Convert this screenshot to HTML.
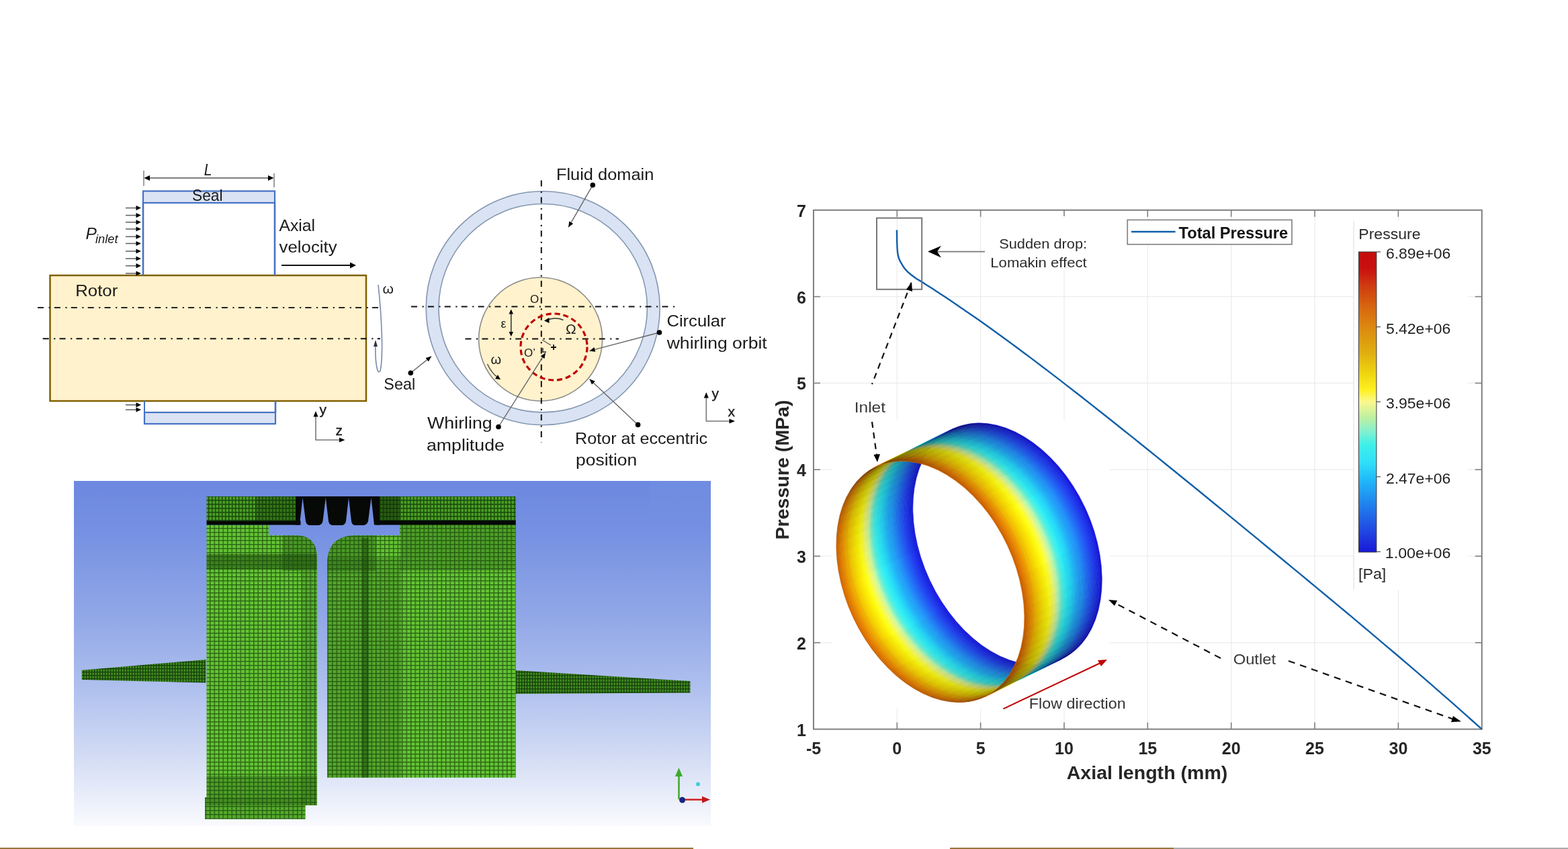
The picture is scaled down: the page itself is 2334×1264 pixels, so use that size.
<!DOCTYPE html>
<html><head><meta charset="utf-8"><title>Seal figure</title>
<style>html,body{margin:0;padding:0;background:#fff;overflow:hidden;} svg{display:block;}</style></head>
<body>
<svg width="2334" height="1264" viewBox="0 0 2334 1264">
<rect width="2334" height="1264" fill="#fff"/>
<rect x="74.5" y="410" width="470.5" height="187" fill="#FFF2CC" stroke="#7F6000" stroke-width="2.5"/>
<rect x="213" y="284.5" width="196" height="17.5" fill="#DAE3F3" stroke="#4472C4" stroke-width="2.2"/>
<line x1="213" y1="302" x2="213" y2="410" stroke="#4472C4" stroke-width="2.6"/>
<line x1="409" y1="302" x2="409" y2="410" stroke="#4472C4" stroke-width="2.6"/>
<rect x="215" y="614" width="195" height="17" fill="#DAE3F3" stroke="#4472C4" stroke-width="2.2"/>
<line x1="215" y1="597" x2="215" y2="614" stroke="#4472C4" stroke-width="2"/>
<line x1="410" y1="597" x2="410" y2="614" stroke="#4472C4" stroke-width="2.6"/>
<line x1="214" y1="254" x2="214" y2="277" stroke="#808080" stroke-width="1.5"/>
<line x1="408" y1="258" x2="408" y2="279" stroke="#808080" stroke-width="1.5"/>
<line x1="220" y1="265" x2="402" y2="265" stroke="#555" stroke-width="1.5"/>
<path d="M214.5 265 L223 261 L223 269 Z" fill="#000"/>
<path d="M407.5 265 L399 261 L399 269 Z" fill="#000"/>
<line x1="187" y1="309.6" x2="203" y2="309.6" stroke="#666" stroke-width="1.6"/>
<path d="M210 309.6 L202.5 306.0 L202.5 313.20000000000005 Z" fill="#000"/>
<line x1="187" y1="320.6" x2="203" y2="320.6" stroke="#666" stroke-width="1.6"/>
<path d="M210 320.6 L202.5 317.0 L202.5 324.20000000000005 Z" fill="#000"/>
<line x1="187" y1="330.8" x2="203" y2="330.8" stroke="#666" stroke-width="1.6"/>
<path d="M210 330.8 L202.5 327.2 L202.5 334.40000000000003 Z" fill="#000"/>
<line x1="187" y1="341" x2="203" y2="341" stroke="#666" stroke-width="1.6"/>
<path d="M210 341 L202.5 337.4 L202.5 344.6 Z" fill="#000"/>
<line x1="187" y1="352.3" x2="203" y2="352.3" stroke="#666" stroke-width="1.6"/>
<path d="M210 352.3 L202.5 348.7 L202.5 355.90000000000003 Z" fill="#000"/>
<line x1="187" y1="362.5" x2="203" y2="362.5" stroke="#666" stroke-width="1.6"/>
<path d="M210 362.5 L202.5 358.9 L202.5 366.1 Z" fill="#000"/>
<line x1="187" y1="374" x2="203" y2="374" stroke="#666" stroke-width="1.6"/>
<path d="M210 374 L202.5 370.4 L202.5 377.6 Z" fill="#000"/>
<line x1="187" y1="385" x2="203" y2="385" stroke="#666" stroke-width="1.6"/>
<path d="M210 385 L202.5 381.4 L202.5 388.6 Z" fill="#000"/>
<line x1="187" y1="395.7" x2="203" y2="395.7" stroke="#666" stroke-width="1.6"/>
<path d="M210 395.7 L202.5 392.09999999999997 L202.5 399.3 Z" fill="#000"/>
<line x1="187" y1="407" x2="203" y2="407" stroke="#666" stroke-width="1.6"/>
<path d="M210 407 L202.5 403.4 L202.5 410.6 Z" fill="#000"/>
<line x1="187" y1="602.8" x2="203" y2="602.8" stroke="#666" stroke-width="1.6"/>
<path d="M210 602.8 L202.5 599.1999999999999 L202.5 606.4 Z" fill="#000"/>
<line x1="187" y1="610" x2="203" y2="610" stroke="#666" stroke-width="1.6"/>
<path d="M210 610 L202.5 606.4 L202.5 613.6 Z" fill="#000"/>
<line x1="419" y1="395" x2="522" y2="395" stroke="#111" stroke-width="2"/>
<path d="M530 395 L521 390.5 L521 399.5 Z" fill="#000"/>
<line x1="56" y1="458" x2="566" y2="458" stroke="#222" stroke-width="2" stroke-dasharray="9 7.5 2.2 6.2"/>
<line x1="63.7" y1="504.3" x2="566" y2="504.3" stroke="#111" stroke-width="2" stroke-dasharray="9 7.5 2.2 6.2"/>
<path d="M563 424 C 568 470, 571 530, 566 552 C 562 560, 558 540, 559 512" fill="none" stroke="#7a8aa8" stroke-width="1.6"/>
<path d="M559 506 L556 516 L562 516 Z" fill="#334"/>
<text x="569.5" y="436.5" font-family="'Liberation Sans', Arial, sans-serif" font-size="21" fill="#1a1a1a">ω</text>
<path d="M470 620 L470 655 L506 655" fill="none" stroke="#777" stroke-width="1.6"/>
<path d="M470 612 L466.5 620.5 L473.5 620.5 Z" fill="#000"/>
<path d="M513.5 655 L505 651.5 L505 658.5 Z" fill="#000"/>
<text x="475.5" y="617" font-family="'Liberation Sans', Arial, sans-serif" font-size="21" fill="#1a1a1a" stroke="#1a1a1a" stroke-width="0.4">y</text>
<text x="499.5" y="647.8" font-family="'Liberation Sans', Arial, sans-serif" font-size="21" fill="#1a1a1a" stroke="#1a1a1a" stroke-width="0.4">z</text>
<circle cx="808.2" cy="458.7" r="164.6" fill="none" stroke="#DAE3F3" stroke-width="19"/>
<circle cx="808.2" cy="458.7" r="174" fill="none" stroke="#8497B0" stroke-width="1.6"/>
<circle cx="808.2" cy="458.7" r="155.2" fill="none" stroke="#8497B0" stroke-width="1.6"/>
<circle cx="804.6" cy="505" r="92" fill="#FFF2CC" stroke="#8C8C8C" stroke-width="1.6"/>
<line x1="612" y1="456.6" x2="1006" y2="456.6" stroke="#111" stroke-width="2" stroke-dasharray="9 7.5 2.2 6.2"/>
<line x1="692.5" y1="504.5" x2="921" y2="504.5" stroke="#111" stroke-width="2" stroke-dasharray="9 7.5 2.2 6.2"/>
<line x1="805.8" y1="268.5" x2="805.8" y2="659" stroke="#111" stroke-width="2" stroke-dasharray="9 7.5 2.2 6.2"/>
<circle cx="824.5" cy="516.5" r="49.5" fill="none" stroke="#C00000" stroke-width="3.2" stroke-dasharray="8 5"/>
<text x="789" y="451" font-family="'Liberation Sans', Arial, sans-serif" font-size="17" fill="#1a1a1a">O</text>
<text x="745.5" y="488" font-family="'Liberation Sans', Arial, sans-serif" font-size="18" fill="#1a1a1a">ε</text>
<text x="842" y="497" font-family="'Liberation Sans', Arial, sans-serif" font-size="21" fill="#1a1a1a">Ω</text>
<text x="780" y="531" font-family="'Liberation Sans', Arial, sans-serif" font-size="17" fill="#1a1a1a">O’</text>
<text x="730.5" y="541.5" font-family="'Liberation Sans', Arial, sans-serif" font-size="20" fill="#1a1a1a">ω</text>
<line x1="760.8" y1="466" x2="760.8" y2="496" stroke="#222" stroke-width="1.4"/>
<path d="M760.8 460.5 L757.5 467.5 L764 467.5 Z" fill="#000"/>
<path d="M760.8 501 L757.5 494 L764 494 Z" fill="#000"/>
<path d="M838.5 476.5 Q 828 472 815 476" fill="none" stroke="#333" stroke-width="1.5"/>
<path d="M810 477.5 L817.5 473 L817.5 481 Z" fill="#000"/>
<line x1="807" y1="506" x2="820" y2="514" stroke="#555" stroke-width="1.2"/>
<path d="M820 517 h8 M824 513 v8" stroke="#111" stroke-width="1.8"/>
<path d="M808 518 L808 524 L813 524" fill="none" stroke="#222" stroke-width="1.4"/>
<path d="M725.5 542 Q 732 556 741 562" fill="none" stroke="#444" stroke-width="1.4"/>
<path d="M745 565 L737 564 L741 558 Z" fill="#000"/>
<line x1="882.3" y1="275.6" x2="846.2" y2="338.2" stroke="#666" stroke-width="1.4"/>
<circle cx="882.3" cy="275.6" r="3.8" fill="#000"/>
<path d="M846.2 338.2 L847.2 329.5 L853.2 333.0 Z" fill="#000"/>
<line x1="611.3" y1="555.3" x2="642" y2="530.6" stroke="#666" stroke-width="1.4"/>
<circle cx="611.3" cy="555.3" r="3.8" fill="#000"/>
<path d="M642.0 530.6 L638.0 538.3 L633.6 532.9 Z" fill="#000"/>
<line x1="742" y1="635.5" x2="811.8" y2="525.4" stroke="#666" stroke-width="1.4"/>
<circle cx="742" cy="635.5" r="3.8" fill="#000"/>
<path d="M811.8 525.4 L810.5 534.0 L804.6 530.3 Z" fill="#000"/>
<line x1="949.6" y1="632.4" x2="877.6" y2="564.5" stroke="#666" stroke-width="1.4"/>
<circle cx="949.6" cy="632.4" r="3.8" fill="#000"/>
<path d="M877.6 564.5 L885.8 567.4 L881.0 572.5 Z" fill="#000"/>
<line x1="981.5" y1="495" x2="877.6" y2="522.4" stroke="#666" stroke-width="1.4"/>
<circle cx="981.5" cy="495" r="3.8" fill="#000"/>
<path d="M877.6 522.4 L884.4 517.0 L886.2 523.7 Z" fill="#000"/>
<path d="M1051.3 592 L1051.3 627 L1087 627" fill="none" stroke="#777" stroke-width="1.6"/>
<path d="M1051.3 584 L1047.8 592.5 L1054.8 592.5 Z" fill="#000"/>
<path d="M1094 627 L1085.5 623.5 L1085.5 630.5 Z" fill="#000"/>
<text x="1059.5" y="592.7" font-family="'Liberation Sans', Arial, sans-serif" font-size="21" fill="#1a1a1a" stroke="#1a1a1a" stroke-width="0.4">y</text>
<text x="1083.5" y="619.6" font-family="'Liberation Sans', Arial, sans-serif" font-size="21" fill="#1a1a1a" stroke="#1a1a1a" stroke-width="0.4">x</text>
<defs>
<linearGradient id="bgGrad" x1="0" y1="0" x2="0" y2="1">
 <stop offset="0" stop-color="#6C88E0"/>
 <stop offset="0.15" stop-color="#7691E2"/>
 <stop offset="0.4" stop-color="#92A8E7"/>
 <stop offset="0.6" stop-color="#AFC0EE"/>
 <stop offset="0.8" stop-color="#D3DCF4"/>
 <stop offset="1" stop-color="#F9FAFE"/>
</linearGradient>
<pattern id="meshA" width="6.5" height="6" patternUnits="userSpaceOnUse">
 <rect width="6.5" height="6" fill="#64C434"/>
 <rect x="0" y="0" width="6.5" height="1.4" fill="#2A6414"/>
 <rect x="0" y="0" width="1.4" height="6" fill="#2A6414"/>
</pattern>
<pattern id="meshB" width="6" height="6" patternUnits="userSpaceOnUse">
 <rect width="6" height="6" fill="#4EA826"/>
 <rect x="0" y="0" width="6" height="1.5" fill="#1C5510"/>
 <rect x="0" y="0" width="1.5" height="6" fill="#1C5510"/>
</pattern>
<pattern id="meshD" width="5" height="6" patternUnits="userSpaceOnUse">
 <rect width="5" height="6" fill="#4A9E24"/>
 <rect x="0" y="0" width="5" height="1.6" fill="#1A4A0C"/>
 <rect x="0" y="0" width="1.4" height="6" fill="#1A4A0C"/>
</pattern>
<pattern id="meshC" width="4" height="5" patternUnits="userSpaceOnUse">
 <rect width="4" height="5" fill="#3E8A1E"/>
 <rect x="0" y="0" width="4" height="1.3" fill="#173F0C"/>
 <rect x="0" y="0" width="1.3" height="5" fill="#173F0C"/>
</pattern>
</defs>
<rect x="110" y="716" width="948" height="513" fill="url(#bgGrad)"/>
<rect x="968" y="716" width="90" height="56" fill="#7190E1" opacity="0.6"/>
<path d="M121.8 997.7 L306.5 982 L306.5 1016.5 L121.8 1012 Z" fill="url(#meshC)"/>
<path d="M767.6 998 L1027.5 1014 L1027.5 1031.4 L767.6 1033 Z" fill="url(#meshC)"/>
<path d="M307.5 739 L307.5 1187 L305 1187 L305 1219.6 L454.6 1219.6 L454.6 1199 L471.8 1199 L471.8 830 Q471.8 797 440 797 L400 797 L400 781.5 L307.5 781.5 Z" fill="url(#meshA)"/>
<rect x="307.5" y="739" width="132.5" height="37" fill="url(#meshD)"/>
<rect x="380" y="739" width="60" height="37" fill="#0E2A06" opacity="0.35"/>
<rect x="307.5" y="825" width="164" height="23" fill="#1E4A0E" opacity="0.55"/>
<path d="M487 1157.7 L767.6 1157.7 L767.6 739 L565 739 L565 775 L595.4 775 L595.4 797 L530 797 Q487 797 487 840 Z" fill="url(#meshA)"/>
<rect x="565" y="739" width="202.6" height="37" fill="url(#meshD)"/>
<rect x="487" y="830" width="110" height="327.7" fill="#1E4A0E" opacity="0.25"/>
<rect x="538" y="801" width="11" height="356.7" fill="#123A08" opacity="0.45"/>
<rect x="595.4" y="781.5" width="172.2" height="68" fill="#1E4A0E" opacity="0.3"/>
<path d="M487 840 Q487 797 530 797 L560 797 L560 850 L487 850 Z" fill="#1E4A0E" opacity="0.35"/>
<rect x="559" y="739" width="36" height="36" fill="#0E2A06" opacity="0.55"/>
<path d="M440 797 Q471.8 797 471.8 830 L471.8 850 L420 850 L420 797 Z" fill="#1E4A0E" opacity="0.35"/>
<rect x="307.5" y="1155" width="164.3" height="44" fill="#1E4A0E" opacity="0.3"/>
<rect x="305" y="1187" width="149.6" height="32.6" fill="#1E4A0E" opacity="0.2"/>
<rect x="448" y="850" width="23.8" height="349" fill="#1E4A0E" opacity="0.2"/>
<rect x="307.5" y="775.5" width="140" height="6" fill="#050805"/>
<rect x="560" y="775" width="207.6" height="6.5" fill="#050805"/>
<path d="M440 739 L565 739 L565 781.5 L557 781.5 L552.5 741 L548 776 Q546 782 540 782 L529 782 Q524 782 523 776 L519 741 L515 776 Q513.5 782 508 782 L496 782 Q490 782 489 776 L484.8 741 L480.5 776 Q479 782 473 782 L462 782 Q456 782 455 776 L450.5 741 L446 781.5 L440 781.5 Z" fill="#060906"/>
<line x1="1010.5" y1="1190" x2="1010.5" y2="1152" stroke="#3DAA2A" stroke-width="2.5"/>
<path d="M1010.5 1143 L1005 1156 L1016 1156 Z" fill="#3DAA2A"/>
<line x1="1012" y1="1190.5" x2="1048" y2="1190.5" stroke="#D02020" stroke-width="2.5"/>
<path d="M1057 1190.5 L1045 1185.5 L1045 1195.5 Z" fill="#C01818"/>
<circle cx="1015.6" cy="1191" r="4.5" fill="#1A237E"/>
<circle cx="1039" cy="1167.4" r="3" fill="#3CCFD8"/>
<line x1="1335.3" y1="312.8" x2="1335.3" y2="1085.6000000000001" stroke="#EBEBEB" stroke-width="1.2"/>
<line x1="1459.6" y1="312.8" x2="1459.6" y2="1085.6000000000001" stroke="#EBEBEB" stroke-width="1.2"/>
<line x1="1584.0" y1="312.8" x2="1584.0" y2="1085.6000000000001" stroke="#EBEBEB" stroke-width="1.2"/>
<line x1="1708.3" y1="312.8" x2="1708.3" y2="1085.6000000000001" stroke="#EBEBEB" stroke-width="1.2"/>
<line x1="1832.7" y1="312.8" x2="1832.7" y2="1085.6000000000001" stroke="#EBEBEB" stroke-width="1.2"/>
<line x1="1957.0" y1="312.8" x2="1957.0" y2="1085.6000000000001" stroke="#EBEBEB" stroke-width="1.2"/>
<line x1="2081.4" y1="312.8" x2="2081.4" y2="1085.6000000000001" stroke="#EBEBEB" stroke-width="1.2"/>
<line x1="1210.95" y1="956.8" x2="2205.75" y2="956.8" stroke="#EBEBEB" stroke-width="1.2"/>
<line x1="1210.95" y1="828.0" x2="2205.75" y2="828.0" stroke="#EBEBEB" stroke-width="1.2"/>
<line x1="1210.95" y1="699.2" x2="2205.75" y2="699.2" stroke="#EBEBEB" stroke-width="1.2"/>
<line x1="1210.95" y1="570.4" x2="2205.75" y2="570.4" stroke="#EBEBEB" stroke-width="1.2"/>
<line x1="1210.95" y1="441.6" x2="2205.75" y2="441.6" stroke="#EBEBEB" stroke-width="1.2"/>
<line x1="1335.3" y1="1085.6000000000001" x2="1335.3" y2="1075.6000000000001" stroke="#808080" stroke-width="1.6"/>
<line x1="1335.3" y1="312.8" x2="1335.3" y2="322.8" stroke="#808080" stroke-width="1.6"/>
<line x1="1459.6" y1="1085.6000000000001" x2="1459.6" y2="1075.6000000000001" stroke="#808080" stroke-width="1.6"/>
<line x1="1459.6" y1="312.8" x2="1459.6" y2="322.8" stroke="#808080" stroke-width="1.6"/>
<line x1="1584.0" y1="1085.6000000000001" x2="1584.0" y2="1075.6000000000001" stroke="#808080" stroke-width="1.6"/>
<line x1="1584.0" y1="312.8" x2="1584.0" y2="322.8" stroke="#808080" stroke-width="1.6"/>
<line x1="1708.3" y1="1085.6000000000001" x2="1708.3" y2="1075.6000000000001" stroke="#808080" stroke-width="1.6"/>
<line x1="1708.3" y1="312.8" x2="1708.3" y2="322.8" stroke="#808080" stroke-width="1.6"/>
<line x1="1832.7" y1="1085.6000000000001" x2="1832.7" y2="1075.6000000000001" stroke="#808080" stroke-width="1.6"/>
<line x1="1832.7" y1="312.8" x2="1832.7" y2="322.8" stroke="#808080" stroke-width="1.6"/>
<line x1="1957.0" y1="1085.6000000000001" x2="1957.0" y2="1075.6000000000001" stroke="#808080" stroke-width="1.6"/>
<line x1="1957.0" y1="312.8" x2="1957.0" y2="322.8" stroke="#808080" stroke-width="1.6"/>
<line x1="2081.4" y1="1085.6000000000001" x2="2081.4" y2="1075.6000000000001" stroke="#808080" stroke-width="1.6"/>
<line x1="2081.4" y1="312.8" x2="2081.4" y2="322.8" stroke="#808080" stroke-width="1.6"/>
<line x1="1210.95" y1="956.8" x2="1220.95" y2="956.8" stroke="#808080" stroke-width="1.6"/>
<line x1="2205.75" y1="956.8" x2="2195.75" y2="956.8" stroke="#808080" stroke-width="1.6"/>
<line x1="1210.95" y1="828.0" x2="1220.95" y2="828.0" stroke="#808080" stroke-width="1.6"/>
<line x1="2205.75" y1="828.0" x2="2195.75" y2="828.0" stroke="#808080" stroke-width="1.6"/>
<line x1="1210.95" y1="699.2" x2="1220.95" y2="699.2" stroke="#808080" stroke-width="1.6"/>
<line x1="2205.75" y1="699.2" x2="2195.75" y2="699.2" stroke="#808080" stroke-width="1.6"/>
<line x1="1210.95" y1="570.4" x2="1220.95" y2="570.4" stroke="#808080" stroke-width="1.6"/>
<line x1="2205.75" y1="570.4" x2="2195.75" y2="570.4" stroke="#808080" stroke-width="1.6"/>
<line x1="1210.95" y1="441.6" x2="1220.95" y2="441.6" stroke="#808080" stroke-width="1.6"/>
<line x1="2205.75" y1="441.6" x2="2195.75" y2="441.6" stroke="#808080" stroke-width="1.6"/>
<rect x="1210.95" y="312.8" width="994.8" height="772.8000000000002" fill="none" stroke="#7F7F7F" stroke-width="2"/>
<text x="1211.0" y="1122.5" text-anchor="middle" font-family="'Liberation Sans', Arial, sans-serif" font-weight="bold" font-size="25" fill="#262626">-5</text>
<text x="1335.3" y="1122.5" text-anchor="middle" font-family="'Liberation Sans', Arial, sans-serif" font-weight="bold" font-size="25" fill="#262626">0</text>
<text x="1459.6" y="1122.5" text-anchor="middle" font-family="'Liberation Sans', Arial, sans-serif" font-weight="bold" font-size="25" fill="#262626">5</text>
<text x="1584.0" y="1122.5" text-anchor="middle" font-family="'Liberation Sans', Arial, sans-serif" font-weight="bold" font-size="25" fill="#262626">10</text>
<text x="1708.3" y="1122.5" text-anchor="middle" font-family="'Liberation Sans', Arial, sans-serif" font-weight="bold" font-size="25" fill="#262626">15</text>
<text x="1832.7" y="1122.5" text-anchor="middle" font-family="'Liberation Sans', Arial, sans-serif" font-weight="bold" font-size="25" fill="#262626">20</text>
<text x="1957.0" y="1122.5" text-anchor="middle" font-family="'Liberation Sans', Arial, sans-serif" font-weight="bold" font-size="25" fill="#262626">25</text>
<text x="2081.4" y="1122.5" text-anchor="middle" font-family="'Liberation Sans', Arial, sans-serif" font-weight="bold" font-size="25" fill="#262626">30</text>
<text x="2205.8" y="1122.5" text-anchor="middle" font-family="'Liberation Sans', Arial, sans-serif" font-weight="bold" font-size="25" fill="#262626">35</text>
<text x="1200" y="1095.6" text-anchor="end" font-family="'Liberation Sans', Arial, sans-serif" font-weight="bold" font-size="25" fill="#262626">1</text>
<text x="1200" y="966.8" text-anchor="end" font-family="'Liberation Sans', Arial, sans-serif" font-weight="bold" font-size="25" fill="#262626">2</text>
<text x="1200" y="838.0" text-anchor="end" font-family="'Liberation Sans', Arial, sans-serif" font-weight="bold" font-size="25" fill="#262626">3</text>
<text x="1200" y="709.2" text-anchor="end" font-family="'Liberation Sans', Arial, sans-serif" font-weight="bold" font-size="25" fill="#262626">4</text>
<text x="1200" y="580.4" text-anchor="end" font-family="'Liberation Sans', Arial, sans-serif" font-weight="bold" font-size="25" fill="#262626">5</text>
<text x="1200" y="451.6" text-anchor="end" font-family="'Liberation Sans', Arial, sans-serif" font-weight="bold" font-size="25" fill="#262626">6</text>
<text x="1200" y="322.8" text-anchor="end" font-family="'Liberation Sans', Arial, sans-serif" font-weight="bold" font-size="25" fill="#262626">7</text>
<text transform="translate(1174.3 699.5) rotate(-90)" text-anchor="middle" textLength="208" lengthAdjust="spacingAndGlyphs" font-family="'Liberation Sans', Arial, sans-serif" font-weight="bold" font-size="28" fill="#262626">Pressure (MPa)</text>
<rect x="1239" y="625" width="413" height="430" fill="#fff"/>
<rect x="1470" y="322" width="155" height="80" fill="#fff"/>
<path d="M1465.29 1037.64A189.51 127.58 64.89 0 1 1304.47 694.44L1306.86 693.26A189.51 127.58 64.89 0 0 1467.68 1036.47Z" fill="#ce6500" stroke="#ce6500" stroke-width="0.6"/>
<path d="M1467.68 1036.47A189.51 127.58 64.89 0 1 1306.86 693.26L1309.25 692.09A189.51 127.58 64.89 0 0 1470.07 1035.30Z" fill="#db7000" stroke="#db7000" stroke-width="0.6"/>
<path d="M1470.07 1035.30A189.51 127.58 64.89 0 1 1309.25 692.09L1311.63 690.92A189.51 127.58 64.89 0 0 1472.46 1034.13Z" fill="#e27b00" stroke="#e27b00" stroke-width="0.6"/>
<path d="M1472.46 1034.13A189.51 127.58 64.89 0 1 1311.63 690.92L1314.02 689.75A189.51 127.58 64.89 0 0 1474.85 1032.96Z" fill="#e78800" stroke="#e78800" stroke-width="0.6"/>
<path d="M1474.85 1032.96A189.51 127.58 64.89 0 1 1314.02 689.75L1316.41 688.58A189.51 127.58 64.89 0 0 1477.23 1031.79Z" fill="#eb9400" stroke="#eb9400" stroke-width="0.6"/>
<path d="M1477.23 1031.79A189.51 127.58 64.89 0 1 1316.41 688.58L1318.80 687.41A189.51 127.58 64.89 0 0 1479.62 1030.62Z" fill="#eda100" stroke="#eda100" stroke-width="0.6"/>
<path d="M1479.62 1030.62A189.51 127.58 64.89 0 1 1318.80 687.41L1321.19 686.24A189.51 127.58 64.89 0 0 1482.01 1029.44Z" fill="#efae00" stroke="#efae00" stroke-width="0.6"/>
<path d="M1482.01 1029.44A189.51 127.58 64.89 0 1 1321.19 686.24L1323.58 685.06A189.51 127.58 64.89 0 0 1484.40 1028.27Z" fill="#f1bb00" stroke="#f1bb00" stroke-width="0.6"/>
<path d="M1484.40 1028.27A189.51 127.58 64.89 0 1 1323.58 685.06L1325.96 683.89A189.51 127.58 64.89 0 0 1486.79 1027.10Z" fill="#f3c700" stroke="#f3c700" stroke-width="0.6"/>
<path d="M1486.79 1027.10A189.51 127.58 64.89 0 1 1325.96 683.89L1328.35 682.72A189.51 127.58 64.89 0 0 1489.18 1025.93Z" fill="#f5d100" stroke="#f5d100" stroke-width="0.6"/>
<path d="M1489.18 1025.93A189.51 127.58 64.89 0 1 1328.35 682.72L1330.74 681.55A189.51 127.58 64.89 0 0 1491.56 1024.76Z" fill="#f7da00" stroke="#f7da00" stroke-width="0.6"/>
<path d="M1491.56 1024.76A189.51 127.58 64.89 0 1 1330.74 681.55L1333.13 680.38A189.51 127.58 64.89 0 0 1493.95 1023.59Z" fill="#f9e300" stroke="#f9e300" stroke-width="0.6"/>
<path d="M1493.95 1023.59A189.51 127.58 64.89 0 1 1333.13 680.38L1335.52 679.21A189.51 127.58 64.89 0 0 1496.34 1022.42Z" fill="#fbeb03" stroke="#fbeb03" stroke-width="0.6"/>
<path d="M1496.34 1022.42A189.51 127.58 64.89 0 1 1335.52 679.21L1337.91 678.03A189.51 127.58 64.89 0 0 1498.73 1021.24Z" fill="#fcf209" stroke="#fcf209" stroke-width="0.6"/>
<path d="M1498.73 1021.24A189.51 127.58 64.89 0 1 1337.91 678.03L1340.30 676.86A189.51 127.58 64.89 0 0 1501.12 1020.07Z" fill="#fef90f" stroke="#fef90f" stroke-width="0.6"/>
<path d="M1501.12 1020.07A189.51 127.58 64.89 0 1 1340.30 676.86L1342.68 675.69A189.51 127.58 64.89 0 0 1503.51 1018.90Z" fill="#feff19" stroke="#feff19" stroke-width="0.6"/>
<path d="M1503.51 1018.90A189.51 127.58 64.89 0 1 1342.68 675.69L1345.07 674.52A189.51 127.58 64.89 0 0 1505.90 1017.73Z" fill="#fafc3a" stroke="#fafc3a" stroke-width="0.6"/>
<path d="M1505.90 1017.73A189.51 127.58 64.89 0 1 1345.07 674.52L1347.46 673.35A189.51 127.58 64.89 0 0 1508.28 1016.56Z" fill="#f5fa5b" stroke="#f5fa5b" stroke-width="0.6"/>
<path d="M1508.28 1016.56A189.51 127.58 64.89 0 1 1347.46 673.35L1349.85 672.18A189.51 127.58 64.89 0 0 1510.67 1015.39Z" fill="#ecf87a" stroke="#ecf87a" stroke-width="0.6"/>
<path d="M1510.67 1015.39A189.51 127.58 64.89 0 1 1349.85 672.18L1352.24 671.01A189.51 127.58 64.89 0 0 1513.06 1014.21Z" fill="#d7f890" stroke="#d7f890" stroke-width="0.6"/>
<path d="M1513.06 1014.21A189.51 127.58 64.89 0 1 1352.24 671.01L1354.63 669.83A189.51 127.58 64.89 0 0 1515.45 1013.04Z" fill="#c1f8a7" stroke="#c1f8a7" stroke-width="0.6"/>
<path d="M1515.45 1013.04A189.51 127.58 64.89 0 1 1354.63 669.83L1357.01 668.66A189.51 127.58 64.89 0 0 1517.84 1011.87Z" fill="#9cf5ba" stroke="#9cf5ba" stroke-width="0.6"/>
<path d="M1517.84 1011.87A189.51 127.58 64.89 0 1 1357.01 668.66L1359.40 667.49A189.51 127.58 64.89 0 0 1520.23 1010.70Z" fill="#75f2ce" stroke="#75f2ce" stroke-width="0.6"/>
<path d="M1520.23 1010.70A189.51 127.58 64.89 0 1 1359.40 667.49L1361.79 666.32A189.51 127.58 64.89 0 0 1522.61 1009.53Z" fill="#57f0dd" stroke="#57f0dd" stroke-width="0.6"/>
<path d="M1522.61 1009.53A189.51 127.58 64.89 0 1 1361.79 666.32L1364.18 665.15A189.51 127.58 64.89 0 0 1525.00 1008.36Z" fill="#43f0e8" stroke="#43f0e8" stroke-width="0.6"/>
<path d="M1525.00 1008.36A189.51 127.58 64.89 0 1 1364.18 665.15L1366.57 663.98A189.51 127.58 64.89 0 0 1527.39 1007.19Z" fill="#30f0f2" stroke="#30f0f2" stroke-width="0.6"/>
<path d="M1527.39 1007.19A189.51 127.58 64.89 0 1 1366.57 663.98L1368.96 662.81A189.51 127.58 64.89 0 0 1529.78 1006.01Z" fill="#2ce8f4" stroke="#2ce8f4" stroke-width="0.6"/>
<path d="M1529.78 1006.01A189.51 127.58 64.89 0 1 1368.96 662.81L1371.35 661.63A189.51 127.58 64.89 0 0 1532.17 1004.84Z" fill="#27e1f6" stroke="#27e1f6" stroke-width="0.6"/>
<path d="M1532.17 1004.84A189.51 127.58 64.89 0 1 1371.35 661.63L1373.73 660.46A189.51 127.58 64.89 0 0 1534.56 1003.67Z" fill="#23daf7" stroke="#23daf7" stroke-width="0.6"/>
<path d="M1534.56 1003.67A189.51 127.58 64.89 0 1 1373.73 660.46L1376.12 659.29A189.51 127.58 64.89 0 0 1536.94 1002.50Z" fill="#22d0f8" stroke="#22d0f8" stroke-width="0.6"/>
<path d="M1536.94 1002.50A189.51 127.58 64.89 0 1 1376.12 659.29L1378.51 658.12A189.51 127.58 64.89 0 0 1539.33 1001.33Z" fill="#21c4f8" stroke="#21c4f8" stroke-width="0.6"/>
<path d="M1539.33 1001.33A189.51 127.58 64.89 0 1 1378.51 658.12L1380.90 656.95A189.51 127.58 64.89 0 0 1541.72 1000.16Z" fill="#20b8f8" stroke="#20b8f8" stroke-width="0.6"/>
<path d="M1541.72 1000.16A189.51 127.58 64.89 0 1 1380.90 656.95L1383.29 655.78A189.51 127.58 64.89 0 0 1544.11 998.99Z" fill="#20adf8" stroke="#20adf8" stroke-width="0.6"/>
<path d="M1544.11 998.99A189.51 127.58 64.89 0 1 1383.29 655.78L1385.68 654.61A189.51 127.58 64.89 0 0 1546.50 997.81Z" fill="#20a5f8" stroke="#20a5f8" stroke-width="0.6"/>
<path d="M1546.50 997.81A189.51 127.58 64.89 0 1 1385.68 654.61L1388.06 653.43A189.51 127.58 64.89 0 0 1548.89 996.64Z" fill="#209cf8" stroke="#209cf8" stroke-width="0.6"/>
<path d="M1548.89 996.64A189.51 127.58 64.89 0 1 1388.06 653.43L1390.45 652.26A189.51 127.58 64.89 0 0 1551.28 995.47Z" fill="#2094f8" stroke="#2094f8" stroke-width="0.6"/>
<path d="M1551.28 995.47A189.51 127.58 64.89 0 1 1390.45 652.26L1392.84 651.09A189.51 127.58 64.89 0 0 1553.66 994.30Z" fill="#208af8" stroke="#208af8" stroke-width="0.6"/>
<path d="M1553.66 994.30A189.51 127.58 64.89 0 1 1392.84 651.09L1395.23 649.92A189.51 127.58 64.89 0 0 1556.05 993.13Z" fill="#207ef7" stroke="#207ef7" stroke-width="0.6"/>
<path d="M1556.05 993.13A189.51 127.58 64.89 0 1 1395.23 649.92L1397.62 648.75A189.51 127.58 64.89 0 0 1558.44 991.96Z" fill="#2072f7" stroke="#2072f7" stroke-width="0.6"/>
<path d="M1558.44 991.96A189.51 127.58 64.89 0 1 1397.62 648.75L1400.01 647.58A189.51 127.58 64.89 0 0 1560.83 990.79Z" fill="#2067f6" stroke="#2067f6" stroke-width="0.6"/>
<path d="M1560.83 990.79A189.51 127.58 64.89 0 1 1400.01 647.58L1402.40 646.40A189.51 127.58 64.89 0 0 1563.22 989.61Z" fill="#205cf4" stroke="#205cf4" stroke-width="0.6"/>
<path d="M1563.22 989.61A189.51 127.58 64.89 0 1 1402.40 646.40L1404.78 645.23A189.51 127.58 64.89 0 0 1565.61 988.44Z" fill="#2052f3" stroke="#2052f3" stroke-width="0.6"/>
<path d="M1565.61 988.44A189.51 127.58 64.89 0 1 1404.78 645.23L1407.17 644.06A189.51 127.58 64.89 0 0 1567.99 987.27Z" fill="#2047f1" stroke="#2047f1" stroke-width="0.6"/>
<path d="M1567.99 987.27A189.51 127.58 64.89 0 1 1407.17 644.06L1409.56 642.89A189.51 127.58 64.89 0 0 1570.38 986.10Z" fill="#1f3def" stroke="#1f3def" stroke-width="0.6"/>
<path d="M1570.38 986.10A189.51 127.58 64.89 0 1 1409.56 642.89L1411.95 641.72A189.51 127.58 64.89 0 0 1572.77 984.93Z" fill="#1d35eb" stroke="#1d35eb" stroke-width="0.6"/>
<path d="M1572.77 984.93A189.51 127.58 64.89 0 1 1411.95 641.72L1414.34 640.55A189.51 127.58 64.89 0 0 1575.16 983.76Z" fill="#1b2ce7" stroke="#1b2ce7" stroke-width="0.6"/>
<path d="M1575.16 983.76A189.51 127.58 64.89 0 1 1414.34 640.55L1416.73 639.38A189.51 127.58 64.89 0 0 1577.55 982.58Z" fill="#1923e4" stroke="#1923e4" stroke-width="0.6"/>
<path d="M1577.55 982.58A189.51 127.58 64.89 0 1 1416.73 639.38L1419.11 638.20A189.51 127.58 64.89 0 0 1579.94 981.41Z" fill="#171ae0" stroke="#171ae0" stroke-width="0.6"/>
<path d="M1465.29 1037.64A189.51 127.58 64.89 0 1 1454.92 1041.71L1569.56 985.48A189.51 127.58 64.89 0 0 1579.94 981.41Z" fill="#000" fill-opacity="0.413"/>
<path d="M1454.92 1041.71A189.51 127.58 64.89 0 1 1444.01 1044.44L1558.65 988.21A189.51 127.58 64.89 0 0 1569.56 985.48Z" fill="#000" fill-opacity="0.343"/>
<path d="M1444.01 1044.44A189.51 127.58 64.89 0 1 1432.65 1045.81L1547.30 989.58A189.51 127.58 64.89 0 0 1558.65 988.21Z" fill="#000" fill-opacity="0.293"/>
<path d="M1432.65 1045.81A189.51 127.58 64.89 0 1 1420.93 1045.81L1535.58 989.58A189.51 127.58 64.89 0 0 1547.30 989.58Z" fill="#000" fill-opacity="0.252"/>
<path d="M1420.93 1045.81A189.51 127.58 64.89 0 1 1408.93 1044.44L1523.58 988.21A189.51 127.58 64.89 0 0 1535.58 989.58Z" fill="#000" fill-opacity="0.216"/>
<path d="M1408.93 1044.44A189.51 127.58 64.89 0 1 1396.76 1041.72L1511.40 985.49A189.51 127.58 64.89 0 0 1523.58 988.21Z" fill="#000" fill-opacity="0.185"/>
<path d="M1396.76 1041.72A189.51 127.58 64.89 0 1 1384.49 1037.66L1499.13 981.43A189.51 127.58 64.89 0 0 1511.40 985.49Z" fill="#000" fill-opacity="0.156"/>
<path d="M1384.49 1037.66A189.51 127.58 64.89 0 1 1372.22 1032.29L1486.87 976.06A189.51 127.58 64.89 0 0 1499.13 981.43Z" fill="#000" fill-opacity="0.130"/>
<path d="M1372.22 1032.29A189.51 127.58 64.89 0 1 1360.05 1025.66L1474.70 969.43A189.51 127.58 64.89 0 0 1486.87 976.06Z" fill="#000" fill-opacity="0.107"/>
<path d="M1360.05 1025.66A189.51 127.58 64.89 0 1 1348.07 1017.81L1462.72 961.58A189.51 127.58 64.89 0 0 1474.70 969.43Z" fill="#000" fill-opacity="0.086"/>
<path d="M1348.07 1017.81A189.51 127.58 64.89 0 1 1336.37 1008.81L1451.01 952.58A189.51 127.58 64.89 0 0 1462.72 961.58Z" fill="#000" fill-opacity="0.067"/>
<path d="M1336.37 1008.81A189.51 127.58 64.89 0 1 1325.04 998.72L1439.68 942.49A189.51 127.58 64.89 0 0 1451.01 952.58Z" fill="#000" fill-opacity="0.051"/>
<path d="M1325.04 998.72A189.51 127.58 64.89 0 1 1314.16 987.62L1428.81 931.39A189.51 127.58 64.89 0 0 1439.68 942.49Z" fill="#000" fill-opacity="0.037"/>
<path d="M1314.16 987.62A189.51 127.58 64.89 0 1 1303.82 975.60L1418.47 919.37A189.51 127.58 64.89 0 0 1428.81 931.39Z" fill="#000" fill-opacity="0.025"/>
<path d="M1303.82 975.60A189.51 127.58 64.89 0 1 1294.10 962.74L1408.75 906.51A189.51 127.58 64.89 0 0 1418.47 919.37Z" fill="#000" fill-opacity="0.015"/>
<path d="M1252.48 873.91A189.51 127.58 64.89 0 1 1248.82 858.22L1363.47 801.99A189.51 127.58 64.89 0 0 1367.12 817.68Z" fill="#000" fill-opacity="0.016"/>
<path d="M1248.82 858.22A189.51 127.58 64.89 0 1 1246.19 842.58L1360.84 786.35A189.51 127.58 64.89 0 0 1363.47 801.99Z" fill="#000" fill-opacity="0.027"/>
<path d="M1246.19 842.58A189.51 127.58 64.89 0 1 1244.63 827.12L1359.27 770.89A189.51 127.58 64.89 0 0 1360.84 786.35Z" fill="#000" fill-opacity="0.041"/>
<path d="M1244.63 827.12A189.51 127.58 64.89 0 1 1244.12 811.96L1358.77 755.72A189.51 127.58 64.89 0 0 1359.27 770.89Z" fill="#000" fill-opacity="0.058"/>
<path d="M1244.12 811.96A189.51 127.58 64.89 0 1 1244.69 797.20L1359.34 740.97A189.51 127.58 64.89 0 0 1358.77 755.72Z" fill="#000" fill-opacity="0.078"/>
<path d="M1244.69 797.20A189.51 127.58 64.89 0 1 1246.33 782.98L1360.98 726.74A189.51 127.58 64.89 0 0 1359.34 740.97Z" fill="#000" fill-opacity="0.102"/>
<path d="M1246.33 782.98A189.51 127.58 64.89 0 1 1249.02 769.38L1363.67 713.15A189.51 127.58 64.89 0 0 1360.98 726.74Z" fill="#000" fill-opacity="0.130"/>
<path d="M1249.02 769.38A189.51 127.58 64.89 0 1 1252.75 756.52L1367.39 700.29A189.51 127.58 64.89 0 0 1363.67 713.15Z" fill="#000" fill-opacity="0.161"/>
<path d="M1252.75 756.52A189.51 127.58 64.89 0 1 1257.48 744.49L1372.12 688.26A189.51 127.58 64.89 0 0 1367.39 700.29Z" fill="#000" fill-opacity="0.197"/>
<path d="M1257.48 744.49A189.51 127.58 64.89 0 1 1263.18 733.39L1377.83 677.16A189.51 127.58 64.89 0 0 1372.12 688.26Z" fill="#000" fill-opacity="0.238"/>
<path d="M1263.18 733.39A189.51 127.58 64.89 0 1 1269.81 723.30L1384.45 667.07A189.51 127.58 64.89 0 0 1377.83 677.16Z" fill="#000" fill-opacity="0.284"/>
<path d="M1269.81 723.30A189.51 127.58 64.89 0 1 1277.31 714.29L1391.95 658.06A189.51 127.58 64.89 0 0 1384.45 667.07Z" fill="#000" fill-opacity="0.338"/>
<path d="M1277.31 714.29A189.51 127.58 64.89 0 1 1285.63 706.44L1400.28 650.21A189.51 127.58 64.89 0 0 1391.95 658.06Z" fill="#000" fill-opacity="0.401"/>
<path d="M1285.63 706.44A189.51 127.58 64.89 0 1 1294.71 699.81L1409.35 643.58A189.51 127.58 64.89 0 0 1400.28 650.21Z" fill="#000" fill-opacity="0.479"/>
<path d="M1294.71 699.81A189.51 127.58 64.89 0 1 1304.47 694.44L1419.11 638.20A189.51 127.58 64.89 0 0 1409.35 643.58Z" fill="#000" fill-opacity="0.589"/>
<path d="M1304.47 694.44A189.51 127.58 64.89 0 1 1465.29 1037.64L1467.68 1036.47A189.51 127.58 64.89 0 0 1306.86 693.26Z" fill="#ce6500" stroke="#ce6500" stroke-width="0.6"/>
<path d="M1306.86 693.26A189.51 127.58 64.89 0 1 1467.68 1036.47L1470.07 1035.30A189.51 127.58 64.89 0 0 1309.25 692.09Z" fill="#db7000" stroke="#db7000" stroke-width="0.6"/>
<path d="M1309.25 692.09A189.51 127.58 64.89 0 1 1470.07 1035.30L1472.46 1034.13A189.51 127.58 64.89 0 0 1311.63 690.92Z" fill="#e27b00" stroke="#e27b00" stroke-width="0.6"/>
<path d="M1311.63 690.92A189.51 127.58 64.89 0 1 1472.46 1034.13L1474.85 1032.96A189.51 127.58 64.89 0 0 1314.02 689.75Z" fill="#e78800" stroke="#e78800" stroke-width="0.6"/>
<path d="M1314.02 689.75A189.51 127.58 64.89 0 1 1474.85 1032.96L1477.23 1031.79A189.51 127.58 64.89 0 0 1316.41 688.58Z" fill="#eb9400" stroke="#eb9400" stroke-width="0.6"/>
<path d="M1316.41 688.58A189.51 127.58 64.89 0 1 1477.23 1031.79L1479.62 1030.62A189.51 127.58 64.89 0 0 1318.80 687.41Z" fill="#eda100" stroke="#eda100" stroke-width="0.6"/>
<path d="M1318.80 687.41A189.51 127.58 64.89 0 1 1479.62 1030.62L1482.01 1029.44A189.51 127.58 64.89 0 0 1321.19 686.24Z" fill="#efae00" stroke="#efae00" stroke-width="0.6"/>
<path d="M1321.19 686.24A189.51 127.58 64.89 0 1 1482.01 1029.44L1484.40 1028.27A189.51 127.58 64.89 0 0 1323.58 685.06Z" fill="#f1bb00" stroke="#f1bb00" stroke-width="0.6"/>
<path d="M1323.58 685.06A189.51 127.58 64.89 0 1 1484.40 1028.27L1486.79 1027.10A189.51 127.58 64.89 0 0 1325.96 683.89Z" fill="#f3c700" stroke="#f3c700" stroke-width="0.6"/>
<path d="M1325.96 683.89A189.51 127.58 64.89 0 1 1486.79 1027.10L1489.18 1025.93A189.51 127.58 64.89 0 0 1328.35 682.72Z" fill="#f5d100" stroke="#f5d100" stroke-width="0.6"/>
<path d="M1328.35 682.72A189.51 127.58 64.89 0 1 1489.18 1025.93L1491.56 1024.76A189.51 127.58 64.89 0 0 1330.74 681.55Z" fill="#f7da00" stroke="#f7da00" stroke-width="0.6"/>
<path d="M1330.74 681.55A189.51 127.58 64.89 0 1 1491.56 1024.76L1493.95 1023.59A189.51 127.58 64.89 0 0 1333.13 680.38Z" fill="#f9e300" stroke="#f9e300" stroke-width="0.6"/>
<path d="M1333.13 680.38A189.51 127.58 64.89 0 1 1493.95 1023.59L1496.34 1022.42A189.51 127.58 64.89 0 0 1335.52 679.21Z" fill="#fbeb03" stroke="#fbeb03" stroke-width="0.6"/>
<path d="M1335.52 679.21A189.51 127.58 64.89 0 1 1496.34 1022.42L1498.73 1021.24A189.51 127.58 64.89 0 0 1337.91 678.03Z" fill="#fcf209" stroke="#fcf209" stroke-width="0.6"/>
<path d="M1337.91 678.03A189.51 127.58 64.89 0 1 1498.73 1021.24L1501.12 1020.07A189.51 127.58 64.89 0 0 1340.30 676.86Z" fill="#fef90f" stroke="#fef90f" stroke-width="0.6"/>
<path d="M1340.30 676.86A189.51 127.58 64.89 0 1 1501.12 1020.07L1503.51 1018.90A189.51 127.58 64.89 0 0 1342.68 675.69Z" fill="#feff19" stroke="#feff19" stroke-width="0.6"/>
<path d="M1342.68 675.69A189.51 127.58 64.89 0 1 1503.51 1018.90L1505.90 1017.73A189.51 127.58 64.89 0 0 1345.07 674.52Z" fill="#fafc3a" stroke="#fafc3a" stroke-width="0.6"/>
<path d="M1345.07 674.52A189.51 127.58 64.89 0 1 1505.90 1017.73L1508.28 1016.56A189.51 127.58 64.89 0 0 1347.46 673.35Z" fill="#f5fa5b" stroke="#f5fa5b" stroke-width="0.6"/>
<path d="M1347.46 673.35A189.51 127.58 64.89 0 1 1508.28 1016.56L1510.67 1015.39A189.51 127.58 64.89 0 0 1349.85 672.18Z" fill="#ecf87a" stroke="#ecf87a" stroke-width="0.6"/>
<path d="M1349.85 672.18A189.51 127.58 64.89 0 1 1510.67 1015.39L1513.06 1014.21A189.51 127.58 64.89 0 0 1352.24 671.01Z" fill="#d7f890" stroke="#d7f890" stroke-width="0.6"/>
<path d="M1352.24 671.01A189.51 127.58 64.89 0 1 1513.06 1014.21L1515.45 1013.04A189.51 127.58 64.89 0 0 1354.63 669.83Z" fill="#c1f8a7" stroke="#c1f8a7" stroke-width="0.6"/>
<path d="M1354.63 669.83A189.51 127.58 64.89 0 1 1515.45 1013.04L1517.84 1011.87A189.51 127.58 64.89 0 0 1357.01 668.66Z" fill="#9cf5ba" stroke="#9cf5ba" stroke-width="0.6"/>
<path d="M1357.01 668.66A189.51 127.58 64.89 0 1 1517.84 1011.87L1520.23 1010.70A189.51 127.58 64.89 0 0 1359.40 667.49Z" fill="#75f2ce" stroke="#75f2ce" stroke-width="0.6"/>
<path d="M1359.40 667.49A189.51 127.58 64.89 0 1 1520.23 1010.70L1522.61 1009.53A189.51 127.58 64.89 0 0 1361.79 666.32Z" fill="#57f0dd" stroke="#57f0dd" stroke-width="0.6"/>
<path d="M1361.79 666.32A189.51 127.58 64.89 0 1 1522.61 1009.53L1525.00 1008.36A189.51 127.58 64.89 0 0 1364.18 665.15Z" fill="#43f0e8" stroke="#43f0e8" stroke-width="0.6"/>
<path d="M1364.18 665.15A189.51 127.58 64.89 0 1 1525.00 1008.36L1527.39 1007.19A189.51 127.58 64.89 0 0 1366.57 663.98Z" fill="#30f0f2" stroke="#30f0f2" stroke-width="0.6"/>
<path d="M1366.57 663.98A189.51 127.58 64.89 0 1 1527.39 1007.19L1529.78 1006.01A189.51 127.58 64.89 0 0 1368.96 662.81Z" fill="#2ce8f4" stroke="#2ce8f4" stroke-width="0.6"/>
<path d="M1368.96 662.81A189.51 127.58 64.89 0 1 1529.78 1006.01L1532.17 1004.84A189.51 127.58 64.89 0 0 1371.35 661.63Z" fill="#27e1f6" stroke="#27e1f6" stroke-width="0.6"/>
<path d="M1371.35 661.63A189.51 127.58 64.89 0 1 1532.17 1004.84L1534.56 1003.67A189.51 127.58 64.89 0 0 1373.73 660.46Z" fill="#23daf7" stroke="#23daf7" stroke-width="0.6"/>
<path d="M1373.73 660.46A189.51 127.58 64.89 0 1 1534.56 1003.67L1536.94 1002.50A189.51 127.58 64.89 0 0 1376.12 659.29Z" fill="#22d0f8" stroke="#22d0f8" stroke-width="0.6"/>
<path d="M1376.12 659.29A189.51 127.58 64.89 0 1 1536.94 1002.50L1539.33 1001.33A189.51 127.58 64.89 0 0 1378.51 658.12Z" fill="#21c4f8" stroke="#21c4f8" stroke-width="0.6"/>
<path d="M1378.51 658.12A189.51 127.58 64.89 0 1 1539.33 1001.33L1541.72 1000.16A189.51 127.58 64.89 0 0 1380.90 656.95Z" fill="#20b8f8" stroke="#20b8f8" stroke-width="0.6"/>
<path d="M1380.90 656.95A189.51 127.58 64.89 0 1 1541.72 1000.16L1544.11 998.99A189.51 127.58 64.89 0 0 1383.29 655.78Z" fill="#20adf8" stroke="#20adf8" stroke-width="0.6"/>
<path d="M1383.29 655.78A189.51 127.58 64.89 0 1 1544.11 998.99L1546.50 997.81A189.51 127.58 64.89 0 0 1385.68 654.61Z" fill="#20a5f8" stroke="#20a5f8" stroke-width="0.6"/>
<path d="M1385.68 654.61A189.51 127.58 64.89 0 1 1546.50 997.81L1548.89 996.64A189.51 127.58 64.89 0 0 1388.06 653.43Z" fill="#209cf8" stroke="#209cf8" stroke-width="0.6"/>
<path d="M1388.06 653.43A189.51 127.58 64.89 0 1 1548.89 996.64L1551.28 995.47A189.51 127.58 64.89 0 0 1390.45 652.26Z" fill="#2094f8" stroke="#2094f8" stroke-width="0.6"/>
<path d="M1390.45 652.26A189.51 127.58 64.89 0 1 1551.28 995.47L1553.66 994.30A189.51 127.58 64.89 0 0 1392.84 651.09Z" fill="#208af8" stroke="#208af8" stroke-width="0.6"/>
<path d="M1392.84 651.09A189.51 127.58 64.89 0 1 1553.66 994.30L1556.05 993.13A189.51 127.58 64.89 0 0 1395.23 649.92Z" fill="#207ef7" stroke="#207ef7" stroke-width="0.6"/>
<path d="M1395.23 649.92A189.51 127.58 64.89 0 1 1556.05 993.13L1558.44 991.96A189.51 127.58 64.89 0 0 1397.62 648.75Z" fill="#2072f7" stroke="#2072f7" stroke-width="0.6"/>
<path d="M1397.62 648.75A189.51 127.58 64.89 0 1 1558.44 991.96L1560.83 990.79A189.51 127.58 64.89 0 0 1400.01 647.58Z" fill="#2067f6" stroke="#2067f6" stroke-width="0.6"/>
<path d="M1400.01 647.58A189.51 127.58 64.89 0 1 1560.83 990.79L1563.22 989.61A189.51 127.58 64.89 0 0 1402.40 646.40Z" fill="#205cf4" stroke="#205cf4" stroke-width="0.6"/>
<path d="M1402.40 646.40A189.51 127.58 64.89 0 1 1563.22 989.61L1565.61 988.44A189.51 127.58 64.89 0 0 1404.78 645.23Z" fill="#2052f3" stroke="#2052f3" stroke-width="0.6"/>
<path d="M1404.78 645.23A189.51 127.58 64.89 0 1 1565.61 988.44L1567.99 987.27A189.51 127.58 64.89 0 0 1407.17 644.06Z" fill="#2047f1" stroke="#2047f1" stroke-width="0.6"/>
<path d="M1407.17 644.06A189.51 127.58 64.89 0 1 1567.99 987.27L1570.38 986.10A189.51 127.58 64.89 0 0 1409.56 642.89Z" fill="#1f3def" stroke="#1f3def" stroke-width="0.6"/>
<path d="M1409.56 642.89A189.51 127.58 64.89 0 1 1570.38 986.10L1572.77 984.93A189.51 127.58 64.89 0 0 1411.95 641.72Z" fill="#1d35eb" stroke="#1d35eb" stroke-width="0.6"/>
<path d="M1411.95 641.72A189.51 127.58 64.89 0 1 1572.77 984.93L1575.16 983.76A189.51 127.58 64.89 0 0 1414.34 640.55Z" fill="#1b2ce7" stroke="#1b2ce7" stroke-width="0.6"/>
<path d="M1414.34 640.55A189.51 127.58 64.89 0 1 1575.16 983.76L1577.55 982.58A189.51 127.58 64.89 0 0 1416.73 639.38Z" fill="#1923e4" stroke="#1923e4" stroke-width="0.6"/>
<path d="M1416.73 639.38A189.51 127.58 64.89 0 1 1577.55 982.58L1579.94 981.41A189.51 127.58 64.89 0 0 1419.11 638.20Z" fill="#171ae0" stroke="#171ae0" stroke-width="0.6"/>
<path d="M1304.47 694.44A189.51 127.58 64.89 0 1 1314.84 690.37L1429.49 634.14A189.51 127.58 64.89 0 0 1419.11 638.20Z" fill="#000" fill-opacity="0.559"/>
<path d="M1314.84 690.37A189.51 127.58 64.89 0 1 1325.75 687.64L1440.40 631.41A189.51 127.58 64.89 0 0 1429.49 634.14Z" fill="#000" fill-opacity="0.458"/>
<path d="M1325.75 687.64A189.51 127.58 64.89 0 1 1337.11 686.27L1451.75 630.04A189.51 127.58 64.89 0 0 1440.40 631.41Z" fill="#000" fill-opacity="0.387"/>
<path d="M1337.11 686.27A189.51 127.58 64.89 0 1 1348.83 686.27L1463.48 630.04A189.51 127.58 64.89 0 0 1451.75 630.04Z" fill="#000" fill-opacity="0.329"/>
<path d="M1348.83 686.27A189.51 127.58 64.89 0 1 1360.83 687.64L1475.47 631.40A189.51 127.58 64.89 0 0 1463.48 630.04Z" fill="#000" fill-opacity="0.279"/>
<path d="M1360.83 687.64A189.51 127.58 64.89 0 1 1373.00 690.36L1487.65 634.13A189.51 127.58 64.89 0 0 1475.47 631.40Z" fill="#000" fill-opacity="0.235"/>
<path d="M1373.00 690.36A189.51 127.58 64.89 0 1 1385.27 694.42L1499.92 638.19A189.51 127.58 64.89 0 0 1487.65 634.13Z" fill="#000" fill-opacity="0.197"/>
<path d="M1385.27 694.42A189.51 127.58 64.89 0 1 1397.54 699.79L1512.19 643.56A189.51 127.58 64.89 0 0 1499.92 638.19Z" fill="#000" fill-opacity="0.162"/>
<path d="M1397.54 699.79A189.51 127.58 64.89 0 1 1409.71 706.42L1524.36 650.19A189.51 127.58 64.89 0 0 1512.19 643.56Z" fill="#000" fill-opacity="0.132"/>
<path d="M1409.71 706.42A189.51 127.58 64.89 0 1 1421.69 714.27L1536.34 658.04A189.51 127.58 64.89 0 0 1524.36 650.19Z" fill="#000" fill-opacity="0.105"/>
<path d="M1421.69 714.27A189.51 127.58 64.89 0 1 1433.39 723.27L1548.04 667.04A189.51 127.58 64.89 0 0 1536.34 658.04Z" fill="#000" fill-opacity="0.081"/>
<path d="M1433.39 723.27A189.51 127.58 64.89 0 1 1444.72 733.36L1559.37 677.13A189.51 127.58 64.89 0 0 1548.04 667.04Z" fill="#000" fill-opacity="0.061"/>
<path d="M1444.72 733.36A189.51 127.58 64.89 0 1 1455.60 744.46L1570.24 688.22A189.51 127.58 64.89 0 0 1559.37 677.13Z" fill="#000" fill-opacity="0.043"/>
<path d="M1455.60 744.46A189.51 127.58 64.89 0 1 1465.94 756.48L1580.58 700.25A189.51 127.58 64.89 0 0 1570.24 688.22Z" fill="#000" fill-opacity="0.029"/>
<path d="M1465.94 756.48A189.51 127.58 64.89 0 1 1475.66 769.34L1590.30 713.11A189.51 127.58 64.89 0 0 1580.58 700.25Z" fill="#000" fill-opacity="0.017"/>
<path d="M1517.28 858.17A189.51 127.58 64.89 0 1 1520.94 873.86L1635.59 817.63A189.51 127.58 64.89 0 0 1631.93 801.93Z" fill="#000" fill-opacity="0.017"/>
<path d="M1520.94 873.86A189.51 127.58 64.89 0 1 1523.57 889.50L1638.21 833.27A189.51 127.58 64.89 0 0 1635.59 817.63Z" fill="#000" fill-opacity="0.029"/>
<path d="M1523.57 889.50A189.51 127.58 64.89 0 1 1525.13 904.96L1639.78 848.73A189.51 127.58 64.89 0 0 1638.21 833.27Z" fill="#000" fill-opacity="0.043"/>
<path d="M1525.13 904.96A189.51 127.58 64.89 0 1 1525.64 920.12L1640.28 863.89A189.51 127.58 64.89 0 0 1639.78 848.73Z" fill="#000" fill-opacity="0.061"/>
<path d="M1525.64 920.12A189.51 127.58 64.89 0 1 1525.07 934.88L1639.71 878.65A189.51 127.58 64.89 0 0 1640.28 863.89Z" fill="#000" fill-opacity="0.081"/>
<path d="M1525.07 934.88A189.51 127.58 64.89 0 1 1523.43 949.10L1638.07 892.87A189.51 127.58 64.89 0 0 1639.71 878.65Z" fill="#000" fill-opacity="0.105"/>
<path d="M1523.43 949.10A189.51 127.58 64.89 0 1 1520.74 962.70L1635.38 906.47A189.51 127.58 64.89 0 0 1638.07 892.87Z" fill="#000" fill-opacity="0.132"/>
<path d="M1520.74 962.70A189.51 127.58 64.89 0 1 1517.01 975.56L1631.66 919.33A189.51 127.58 64.89 0 0 1635.38 906.47Z" fill="#000" fill-opacity="0.162"/>
<path d="M1517.01 975.56A189.51 127.58 64.89 0 1 1512.28 987.59L1626.93 931.36A189.51 127.58 64.89 0 0 1631.66 919.33Z" fill="#000" fill-opacity="0.197"/>
<path d="M1512.28 987.59A189.51 127.58 64.89 0 1 1506.58 998.69L1621.23 942.46A189.51 127.58 64.89 0 0 1626.93 931.36Z" fill="#000" fill-opacity="0.235"/>
<path d="M1506.58 998.69A189.51 127.58 64.89 0 1 1499.95 1008.78L1614.60 952.55A189.51 127.58 64.89 0 0 1621.23 942.46Z" fill="#000" fill-opacity="0.279"/>
<path d="M1499.95 1008.78A189.51 127.58 64.89 0 1 1492.45 1017.79L1607.10 961.56A189.51 127.58 64.89 0 0 1614.60 952.55Z" fill="#000" fill-opacity="0.329"/>
<path d="M1492.45 1017.79A189.51 127.58 64.89 0 1 1484.13 1025.64L1598.78 969.41A189.51 127.58 64.89 0 0 1607.10 961.56Z" fill="#000" fill-opacity="0.387"/>
<path d="M1484.13 1025.64A189.51 127.58 64.89 0 1 1475.05 1032.27L1589.70 976.04A189.51 127.58 64.89 0 0 1598.78 969.41Z" fill="#000" fill-opacity="0.458"/>
<path d="M1475.05 1032.27A189.51 127.58 64.89 0 1 1465.29 1037.64L1579.94 981.41A189.51 127.58 64.89 0 0 1589.70 976.04Z" fill="#000" fill-opacity="0.559"/>
<path d="M1334.90 342.60 C1335.0 345.5 1335.1 355.4 1335.2 360.0 C1335.3 364.6 1335.4 366.8 1335.6 370.0 C1335.8 373.2 1336.1 376.4 1336.6 379.0 C1337.1 381.6 1337.6 383.7 1338.4 385.8 C1339.2 387.9 1340.2 389.5 1341.4 391.6 C1342.6 393.7 1344.0 396.2 1345.5 398.3 C1347.0 400.4 1348.7 402.4 1350.5 404.2 C1352.3 406.0 1354.3 407.6 1356.5 409.3 C1358.7 411.0 1360.9 412.7 1363.5 414.4 C1366.1 416.1 1369.2 417.9 1372.0 419.6 C1374.8 421.3 1377.3 423.0 1380.0 424.7 C1382.7 426.4 1385.3 428.1 1388.0 429.8 C1390.7 431.5 1393.3 433.3 1396.0 435.0 C1398.7 436.8 1401.3 438.5 1404.0 440.3 C1406.7 442.0 1409.3 443.8 1412.0 445.6 C1414.7 447.4 1417.3 449.2 1420.0 451.0 C1422.7 452.8 1425.3 454.6 1428.0 456.4 C1430.7 458.2 1433.3 460.1 1436.0 461.9 C1438.7 463.7 1441.3 465.6 1444.0 467.4 C1446.7 469.3 1449.3 471.1 1452.0 473.0 C1454.7 474.9 1454.5 474.7 1460.0 478.6 C1465.5 482.6 1476.7 490.5 1485.0 496.5 C1493.3 502.5 1501.7 508.6 1510.0 514.8 C1518.3 520.9 1526.7 527.2 1535.0 533.4 C1543.3 539.7 1551.7 546.0 1560.0 552.4 C1568.3 558.7 1576.7 565.1 1585.0 571.6 C1593.3 578.0 1601.7 584.5 1610.0 591.0 C1618.3 597.5 1626.7 604.1 1635.0 610.7 C1643.3 617.2 1651.7 623.8 1660.0 630.5 C1668.3 637.1 1676.7 643.8 1685.0 650.4 C1693.3 657.1 1701.7 663.8 1710.0 670.5 C1718.3 677.2 1726.7 684.0 1735.0 690.7 C1743.3 697.4 1751.7 704.2 1760.0 711.0 C1768.3 717.7 1776.7 724.5 1785.0 731.3 C1793.3 738.1 1801.7 744.9 1810.0 751.7 C1818.3 758.5 1826.7 765.3 1835.0 772.1 C1843.3 779.0 1851.7 785.8 1860.0 792.6 C1868.3 799.5 1876.7 806.3 1885.0 813.2 C1893.3 820.0 1901.7 826.9 1910.0 833.7 C1918.3 840.6 1926.7 847.5 1935.0 854.4 C1943.3 861.3 1951.7 868.2 1960.0 875.1 C1968.3 882.0 1976.7 888.9 1985.0 895.9 C1993.3 902.8 2001.7 909.7 2010.0 916.7 C2018.3 923.7 2026.7 930.7 2035.0 937.7 C2043.3 944.7 2051.7 951.7 2060.0 958.8 C2068.3 965.8 2076.7 972.9 2085.0 980.0 C2093.3 987.1 2101.7 994.3 2110.0 1001.4 C2118.3 1008.6 2126.7 1015.8 2135.0 1023.1 C2143.3 1030.3 2151.7 1037.6 2160.0 1044.9 C2168.3 1052.3 2177.4 1060.3 2185.0 1067.1 C2192.6 1073.9 2202.3 1082.6 2205.8 1085.7" fill="none" stroke="#0F5FA8" stroke-width="2.4" stroke-linejoin="round"/>
<rect x="1305" y="324.6" width="67.2" height="106.2" fill="none" stroke="#777" stroke-width="2"/>
<line x1="1466" y1="374.6" x2="1392" y2="374.6" stroke="#777" stroke-width="1.8"/>
<path d="M1381 374.6 L1401 366 L1395 374.6 L1401 383.5 Z" fill="#000"/>
<rect x="1678.2" y="327.4" width="244.8" height="36.4" fill="#fff" stroke="#8a8a8a" stroke-width="1.8"/>
<line x1="1684" y1="345" x2="1749.6" y2="345" stroke="#0F5FA8" stroke-width="2.4"/>
<rect x="2015" y="329" width="170" height="549" fill="#fff"/>
<line x1="2015" y1="329" x2="2015" y2="878" stroke="#E4E4E4" stroke-width="1.3"/>
<defs><linearGradient id="cbar" x1="0" y1="0" x2="0" y2="1">
<stop offset="0" stop-color="#C40C0C"/>
<stop offset="0.055" stop-color="#C81010"/>
<stop offset="0.12" stop-color="#D04010"/>
<stop offset="0.19" stop-color="#D86A10"/>
<stop offset="0.26" stop-color="#DC8C10"/>
<stop offset="0.34" stop-color="#E0B010"/>
<stop offset="0.41" stop-color="#F0D810"/>
<stop offset="0.46" stop-color="#FFF020"/>
<stop offset="0.50" stop-color="#FAF890"/>
<stop offset="0.55" stop-color="#C0F0A0"/>
<stop offset="0.60" stop-color="#80F0D0"/>
<stop offset="0.64" stop-color="#40F0E8"/>
<stop offset="0.70" stop-color="#30E0F8"/>
<stop offset="0.76" stop-color="#20B8F8"/>
<stop offset="0.82" stop-color="#2090F0"/>
<stop offset="0.88" stop-color="#2068E8"/>
<stop offset="0.94" stop-color="#2040E0"/>
<stop offset="1" stop-color="#1818D8"/>
</linearGradient></defs>
<rect x="2022.5" y="375" width="26.4" height="447" fill="url(#cbar)" stroke="#3a3a3a" stroke-width="1"/>
<line x1="2049" y1="375.0" x2="2055" y2="375.0" stroke="#555" stroke-width="1.3"/>
<line x1="2049" y1="486.6" x2="2055" y2="486.6" stroke="#555" stroke-width="1.3"/>
<line x1="2049" y1="598.2" x2="2055" y2="598.2" stroke="#555" stroke-width="1.3"/>
<line x1="2049" y1="709.8" x2="2055" y2="709.8" stroke="#555" stroke-width="1.3"/>
<line x1="2049" y1="821.4" x2="2055" y2="821.4" stroke="#555" stroke-width="1.3"/>
<line x1="1356.4" y1="421" x2="1298" y2="572" stroke="#111" stroke-width="2.2" stroke-dasharray="9 7"/>
<path d="M1357 420 L1349 431 L1358 434 Z" fill="#000"/>
<line x1="1298" y1="628" x2="1305" y2="678" stroke="#111" stroke-width="2.2" stroke-dasharray="9 7"/>
<path d="M1306 688 L1300.5 677 L1310 676 Z" fill="#000"/>
<line x1="1817" y1="980" x2="1660" y2="898" stroke="#111" stroke-width="2.2" stroke-dasharray="10 8"/>
<path d="M1650 893 L1663 894 L1659 902 Z" fill="#000"/>
<line x1="1918" y1="984" x2="2164" y2="1071" stroke="#111" stroke-width="2.2" stroke-dasharray="10 8"/>
<path d="M2175 1074.3 L2163 1066 L2160 1075 Z" fill="#000"/>
<line x1="1493.4" y1="1055.3" x2="1638" y2="987" stroke="#C00000" stroke-width="2"/>
<path d="M1648 982 L1634 983 L1639 992 Z" fill="#C00000"/>
<text x="303.64" y="261.4" textLength="11.82" lengthAdjust="spacingAndGlyphs" font-family="'Liberation Sans', Arial, sans-serif" font-style="italic" font-weight="normal" font-size="24.6" fill="#1a1a1a">L</text>
<text x="286.05" y="299.3" textLength="45.54" lengthAdjust="spacingAndGlyphs" font-family="'Liberation Sans', Arial, sans-serif" font-style="normal" font-weight="normal" font-size="24" fill="#1a1a1a">Seal</text>
<text x="127.6" y="355.6" textLength="16.41" lengthAdjust="spacingAndGlyphs" font-family="'Liberation Sans', Arial, sans-serif" font-style="italic" font-weight="normal" font-size="24.6" fill="#1a1a1a">P</text>
<text x="142.0" y="361.5" textLength="33.67" lengthAdjust="spacingAndGlyphs" font-family="'Liberation Sans', Arial, sans-serif" font-style="italic" font-weight="normal" font-size="18.9" fill="#1a1a1a">inlet</text>
<text x="112.19" y="441.4" textLength="63.08" lengthAdjust="spacingAndGlyphs" font-family="'Liberation Sans', Arial, sans-serif" font-style="normal" font-weight="normal" font-size="23.3" fill="#1a1a1a">Rotor</text>
<text x="415.5" y="343.6" textLength="53.52" lengthAdjust="spacingAndGlyphs" font-family="'Liberation Sans', Arial, sans-serif" font-style="normal" font-weight="normal" font-size="24.6" fill="#1a1a1a">Axial</text>
<text x="415.5" y="376" textLength="86.22" lengthAdjust="spacingAndGlyphs" font-family="'Liberation Sans', Arial, sans-serif" font-style="normal" font-weight="normal" font-size="24.6" fill="#1a1a1a">velocity</text>
<text x="827.95" y="267.8" textLength="145.34" lengthAdjust="spacingAndGlyphs" font-family="'Liberation Sans', Arial, sans-serif" font-style="normal" font-weight="normal" font-size="24.8" fill="#1a1a1a">Fluid domain</text>
<text x="992.45" y="485.9" textLength="88.09" lengthAdjust="spacingAndGlyphs" font-family="'Liberation Sans', Arial, sans-serif" font-style="normal" font-weight="normal" font-size="24.3" fill="#1a1a1a">Circular</text>
<text x="992.7" y="519.4" textLength="149.07" lengthAdjust="spacingAndGlyphs" font-family="'Liberation Sans', Arial, sans-serif" font-style="normal" font-weight="normal" font-size="24.6" fill="#1a1a1a">whirling orbit</text>
<text x="571.33" y="580.3" textLength="46.79" lengthAdjust="spacingAndGlyphs" font-family="'Liberation Sans', Arial, sans-serif" font-style="normal" font-weight="normal" font-size="24" fill="#1a1a1a">Seal</text>
<text x="636.1" y="637.9" textLength="96.59" lengthAdjust="spacingAndGlyphs" font-family="'Liberation Sans', Arial, sans-serif" font-style="normal" font-weight="normal" font-size="24.6" fill="#1a1a1a">Whirling</text>
<text x="635.01" y="670.8" textLength="115.88" lengthAdjust="spacingAndGlyphs" font-family="'Liberation Sans', Arial, sans-serif" font-style="normal" font-weight="normal" font-size="24.6" fill="#1a1a1a">amplitude</text>
<text x="856.0" y="660.9" textLength="197.13" lengthAdjust="spacingAndGlyphs" font-family="'Liberation Sans', Arial, sans-serif" font-style="normal" font-weight="normal" font-size="24" fill="#1a1a1a">Rotor at eccentric</text>
<text x="857.02" y="693.3" textLength="91.19" lengthAdjust="spacingAndGlyphs" font-family="'Liberation Sans', Arial, sans-serif" font-style="normal" font-weight="normal" font-size="24.6" fill="#1a1a1a">position</text>
<text x="1487.16" y="369.6" textLength="131.03" lengthAdjust="spacingAndGlyphs" font-family="'Liberation Sans', Arial, sans-serif" font-style="normal" font-weight="normal" font-size="21" fill="#2a2a2a">Sudden drop:</text>
<text x="1474.3" y="397.5" textLength="143.32" lengthAdjust="spacingAndGlyphs" font-family="'Liberation Sans', Arial, sans-serif" font-style="normal" font-weight="normal" font-size="21" fill="#2a2a2a">Lomakin effect</text>
<text x="1754.5" y="355.3" textLength="162.64" lengthAdjust="spacingAndGlyphs" font-family="'Liberation Sans', Arial, sans-serif" font-style="normal" font-weight="bold" font-size="23.3" fill="#111">Total Pressure</text>
<text x="2022.25" y="355.6" textLength="92.37" lengthAdjust="spacingAndGlyphs" font-family="'Liberation Sans', Arial, sans-serif" font-style="normal" font-weight="normal" font-size="21.5" fill="#2a2a2a">Pressure</text>
<text x="2062.93" y="385.3" textLength="96.44" lengthAdjust="spacingAndGlyphs" font-family="'Liberation Sans', Arial, sans-serif" font-style="normal" font-weight="normal" font-size="21.5" fill="#222">6.89e+06</text>
<text x="2062.93" y="497" textLength="96.44" lengthAdjust="spacingAndGlyphs" font-family="'Liberation Sans', Arial, sans-serif" font-style="normal" font-weight="normal" font-size="21.5" fill="#222">5.42e+06</text>
<text x="2062.93" y="608" textLength="96.44" lengthAdjust="spacingAndGlyphs" font-family="'Liberation Sans', Arial, sans-serif" font-style="normal" font-weight="normal" font-size="21.5" fill="#222">3.95e+06</text>
<text x="2062.93" y="719.5" textLength="96.44" lengthAdjust="spacingAndGlyphs" font-family="'Liberation Sans', Arial, sans-serif" font-style="normal" font-weight="normal" font-size="21.5" fill="#222">2.47e+06</text>
<text x="2061.84" y="831" textLength="97.55" lengthAdjust="spacingAndGlyphs" font-family="'Liberation Sans', Arial, sans-serif" font-style="normal" font-weight="normal" font-size="21.5" fill="#222">1.00e+06</text>
<text x="2021.92" y="861.5" textLength="41.44" lengthAdjust="spacingAndGlyphs" font-family="'Liberation Sans', Arial, sans-serif" font-style="normal" font-weight="normal" font-size="21.5" fill="#2a2a2a">[Pa]</text>
<text x="1271.73" y="614.3" textLength="46.38" lengthAdjust="spacingAndGlyphs" font-family="'Liberation Sans', Arial, sans-serif" font-style="normal" font-weight="normal" font-size="21.6" fill="#3a3a3a">Inlet</text>
<text x="1835.65" y="988.8" textLength="63.45" lengthAdjust="spacingAndGlyphs" font-family="'Liberation Sans', Arial, sans-serif" font-style="normal" font-weight="normal" font-size="22.6" fill="#3a3a3a">Outlet</text>
<text x="1531.88" y="1055" textLength="143.84" lengthAdjust="spacingAndGlyphs" font-family="'Liberation Sans', Arial, sans-serif" font-style="normal" font-weight="normal" font-size="22" fill="#333">Flow direction</text>
<text x="1587.74" y="1160" textLength="239.58" lengthAdjust="spacingAndGlyphs" font-family="'Liberation Sans', Arial, sans-serif" font-style="normal" font-weight="bold" font-size="27" fill="#262626">Axial length (mm)</text>
<rect x="0" y="1262" width="1032" height="2" fill="#95763F"/>
<rect x="1414" y="1262" width="333" height="2" fill="#95763F"/>
<rect x="1747" y="1262" width="587" height="2" fill="#ABABAB"/>
</svg>
</body></html>
